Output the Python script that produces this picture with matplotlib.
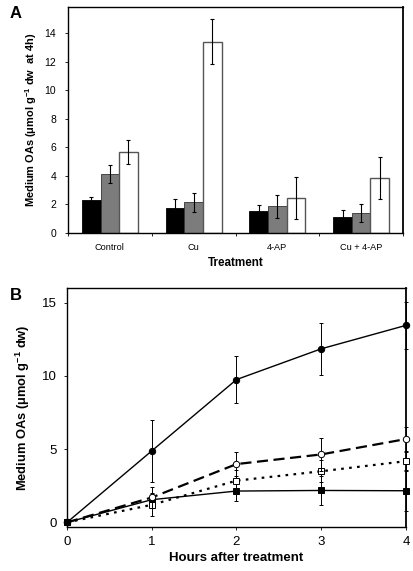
#!/usr/bin/env python3
"""Medium OAs: bar chart at 4 h (A) and time course (B)."""

import matplotlib

matplotlib.use("Agg")
import matplotlib.pyplot as plt
import numpy as np

plt.rcParams["font.family"] = ["Liberation Sans", "DejaVu Sans"]
plt.rcParams["mathtext.fontset"] = "custom"
plt.rcParams["mathtext.rm"] = "Liberation Sans:bold"
plt.rcParams["mathtext.it"] = "Liberation Sans:bold"
plt.rcParams["mathtext.default"] = "rm"

# --- panel A: medium OAs at 4 h, three bars per treatment ---
treatments = ["Control", "Cu", "4-AP", "Cu + 4-AP"]
bar_black = [2.30, 1.72, 1.53, 1.13]
bar_black_err = [0.21, 0.66, 0.42, 0.47]
bar_gray = [4.15, 2.14, 1.88, 1.41]
bar_gray_err = [0.65, 0.68, 0.80, 0.63]
bar_white = [5.68, 13.43, 2.44, 3.85]
bar_white_err = [0.85, 1.60, 1.47, 1.50]

# --- panel B: time course ---
hours = [0, 1, 2, 3, 4]
filled_circle = [0, 4.88, 9.75, 11.85, 13.45]
filled_circle_err = [0, 2.10, 1.62, 1.78, 1.60]
open_circle = [0, 1.70, 3.98, 4.64, 5.69]
open_circle_err = [0, 0.75, 0.80, 1.10, 0.85]
open_square = [0, 1.20, 2.85, 3.49, 4.18]
open_square_err = [0, 0.75, 0.70, 0.75, 0.65]
filled_square = [0, 1.55, 2.14, 2.18, 2.16]
filled_square_err = [0, 0.45, 0.70, 1.00, 1.40]

W, H = 414, 571
fig = plt.figure(figsize=(W / 100, H / 100), dpi=100)


def box(l, t, r, b):
    return [l / W, 1 - b / H, (r - l) / W, (b - t) / H]


# ---------------- panel A ----------------
axA = fig.add_axes(box(68, 7, 403, 233))
x = np.arange(len(treatments))
w = 0.222
ekw = dict(ecolor="black", elinewidth=0.8, capsize=1.6, capthick=0.8)
axA.bar(x - w, bar_black, w, color="black", edgecolor="black", lw=0.6,
        yerr=bar_black_err, error_kw=ekw)
axA.bar(x, bar_gray, w, color="#7c7c7c", edgecolor="#333333", lw=0.6,
        yerr=bar_gray_err, error_kw=ekw)
axA.bar(x + w, bar_white, w, color="white", edgecolor="#555555", lw=1.0,
        yerr=bar_white_err, error_kw=ekw)
axA.set_xlim(-0.5, 3.5)
axA.set_ylim(0, 15.85)
axA.set_yticks(np.arange(0, 15, 2))
axA.set_xticks(x)
axA.set_xticklabels(treatments, fontsize=6.6)
axA.set_xticks(np.arange(-0.5, 4, 1), minor=True)
axA.tick_params(axis="x", which="major", length=0, pad=7)
axA.tick_params(axis="x", which="minor", length=2.5, width=0.6)
axA.tick_params(axis="y", labelsize=7.5, length=2.5, width=0.6, pad=6)
axA.set_xlabel("Treatment", fontsize=8.4, fontweight="bold", labelpad=4)
axA.set_ylabel(r"Medium OAs ($\mu$mol g$^{-1}$ dw  at 4h)", fontsize=7.9,
               fontweight="bold", labelpad=4)
for s in axA.spines.values():
    s.set_linewidth(1.0)
fig.text(10 / W, 1 - 13 / H, "A", fontsize=12, fontweight="bold",
         va="center", ha="left")

# ---------------- panel B ----------------
axB = fig.add_axes(box(67, 288, 406, 526.5))
mk = dict(markersize=4.6, markeredgecolor="black", markeredgewidth=0.7,
          elinewidth=0.7, ecolor="black", capsize=1.6, capthick=0.7,
          clip_on=False)
axB.errorbar(hours, filled_square, yerr=filled_square_err, color="black",
             lw=1.0, marker="s", markerfacecolor="black", zorder=3, **mk)
axB.errorbar(hours, open_square, yerr=open_square_err, color="black",
             lw=1.6, ls=(0, (1.2, 2.4)), marker="s",
             markerfacecolor="white", zorder=3, **mk)
axB.errorbar(hours, open_circle, yerr=open_circle_err, color="black",
             lw=1.6, ls=(0, (5, 2.5)), marker="o",
             markerfacecolor="white", zorder=4, **mk)
axB.errorbar(hours, filled_circle, yerr=filled_circle_err, color="black",
             lw=1.0, marker="o", markerfacecolor="black", zorder=5, **mk)
axB.set_xlim(0, 4)
axB.set_ylim(-0.28, 16)
axB.set_xticks(hours)
axB.set_yticks([0, 5, 10, 15])
axB.tick_params(axis="both", labelsize=9.5, length=2.5, width=0.6)
axB.tick_params(axis="x", pad=4)
axB.tick_params(axis="y", pad=5)
axB.set_xlabel("Hours after treatment", fontsize=9.5, fontweight="bold",
               labelpad=3)
axB.set_ylabel(r"Medium OAs ($\mu$mol g$^{-1}$ dw)", fontsize=9.3,
               fontweight="bold", labelpad=7)
for s in axB.spines.values():
    s.set_linewidth(1.0)
for a in (axA, axB):
    a.spines["right"].set_linewidth(1.3)
fig.text(10 / W, 1 - 296 / H, "B", fontsize=12, fontweight="bold",
         va="center", ha="left")

fig.savefig("out.png", dpi=100)
